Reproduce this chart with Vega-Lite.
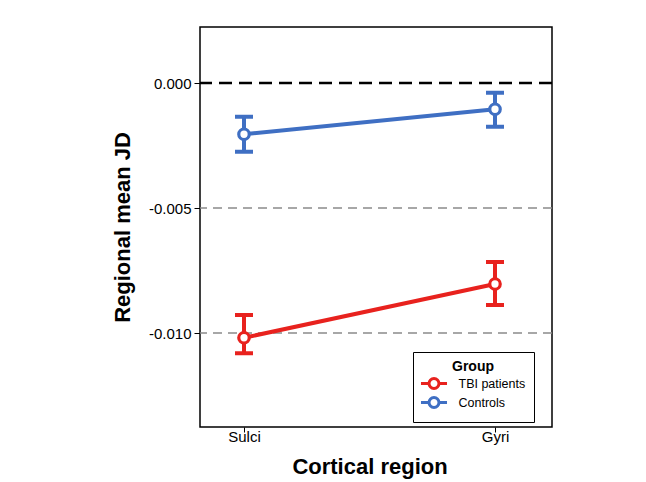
{
  "$schema": "https://vega.github.io/schema/vega-lite/v6.json",
  "width": 352,
  "height": 400,
  "autosize": "none",
  "padding": {"left": 200, "top": 27, "right": 94, "bottom": 55},
  "background": "white",
  "config": {
    "font": "Liberation Sans",
    "view": {"stroke": "black", "strokeWidth": 1.5},
    "axis": {"grid": false, "domain": false, "tickColor": "black", "labelColor": "black", "titleColor": "black", "labelFont": "Liberation Sans", "titleFont": "Liberation Sans"},
    "legend": {
      "orient": "none",
      "legendX": 213,
      "legendY": 325,
      "direction": "vertical",
      "titleFontSize": 14,
      "titleFontWeight": "bold",
      "titleAnchor": "middle",
      "titleColor": "black",
      "titlePadding": 2,
      "labelFontSize": 12.5,
      "labelColor": "black",
      "labelOffset": 17,
      "symbolOffset": 5.5,
      "rowPadding": -4,
      "padding": 8,
      "strokeColor": "black",
      "fillColor": "white",
      "symbolType": "M-2.17,0L-0.83,0M0.83,0L2.17,0M-0.83,0A0.83,0.83,0,1,1,0.83,0A0.83,0.83,0,1,1,-0.83,0Z",
      "symbolSize": 144,
      "symbolStrokeWidth": 3,
      "symbolFillColor": "white",
      "symbolOpacity": 1
    }
  },
  "datasets": {
    "stats": [
      {"region": "Sulci", "group": "TBI patients", "mean": -0.01019, "lo": -0.01081, "hi": -0.00928},
      {"region": "Gyri", "group": "TBI patients", "mean": -0.00804, "lo": -0.00888, "hi": -0.00716},
      {"region": "Sulci", "group": "Controls", "mean": -0.00205, "lo": -0.00275, "hi": -0.00135},
      {"region": "Gyri", "group": "Controls", "mean": -0.00105, "lo": -0.00175, "hi": -0.00039}
    ],
    "zeroLine": [{"y": 0}],
    "refLines": [{"y": -0.005}, {"y": -0.01}]
  },
  "layer": [
    {
      "data": {"name": "refLines"},
      "mark": {"type": "rule", "color": "#8a8a8a", "strokeWidth": 1.5, "strokeDash": [9, 6]},
      "encoding": {"y": {"field": "y", "type": "quantitative"}}
    },
    {
      "data": {"name": "zeroLine"},
      "mark": {"type": "rule", "color": "black", "strokeWidth": 2.5, "strokeDash": [13, 7]},
      "encoding": {"y": {"field": "y", "type": "quantitative"}}
    },
    {
      "data": {"name": "stats"},
      "mark": {"type": "line", "strokeWidth": 4, "opacity": 1},
      "encoding": {
        "x": {"field": "region", "type": "nominal"},
        "y": {"field": "mean", "type": "quantitative"},
        "color": {"field": "group", "type": "nominal", "title": "Group"}
      }
    },
    {
      "data": {"name": "stats"},
      "mark": {"type": "rule", "strokeWidth": 4, "opacity": 1},
      "encoding": {
        "x": {"field": "region", "type": "nominal"},
        "y": {"field": "lo", "type": "quantitative"},
        "y2": {"field": "hi"},
        "color": {"field": "group", "type": "nominal", "title": "Group"}
      }
    },
    {
      "data": {"name": "stats"},
      "mark": {"type": "rule", "strokeWidth": 4, "opacity": 1, "xOffset": -9, "x2Offset": 9},
      "encoding": {
        "x": {"field": "region", "type": "nominal"},
        "x2": {"field": "region"},
        "y": {"field": "lo", "type": "quantitative"},
        "color": {"field": "group", "type": "nominal", "title": "Group"}
      }
    },
    {
      "data": {"name": "stats"},
      "mark": {"type": "rule", "strokeWidth": 4, "opacity": 1, "xOffset": -9, "x2Offset": 9},
      "encoding": {
        "x": {"field": "region", "type": "nominal"},
        "x2": {"field": "region"},
        "y": {"field": "hi", "type": "quantitative"},
        "color": {"field": "group", "type": "nominal", "title": "Group"}
      }
    },
    {
      "data": {"name": "stats"},
      "mark": {"type": "point", "filled": false, "fill": "white", "fillOpacity": 1, "size": 110, "strokeWidth": 3.2, "opacity": 1},
      "encoding": {
        "x": {
          "field": "region", "type": "nominal",
          "scale": {"type": "point", "domain": ["Sulci", "Gyri"], "range": [44, 295], "padding": 0},
          "axis": {"title": "Cortical region", "labelAngle": 0, "labelAlign": "center", "labelFlush": false, "labelFontSize": 15, "tickSize": 5, "labelPadding": 4, "titleFontSize": 22, "titleFontWeight": "bold", "titlePadding": 12}
        },
        "y": {
          "field": "mean", "type": "quantitative",
          "scale": {"domain": [-0.01376, 0.00224], "nice": false, "zero": false},
          "axis": {"title": "Regional mean JD", "values": [0, -0.005, -0.01], "labelExpr": "replace(format(datum.value, '.3f'), '\u2212', '-')", "labelFontSize": 15, "tickSize": 6, "labelPadding": 3, "titleFontSize": 22, "titleFontWeight": "bold", "titlePadding": 14}
        },
        "color": {
          "field": "group", "type": "nominal", "title": "Group",
          "scale": {"domain": ["TBI patients", "Controls"], "range": ["#e8221e", "#3f6fc3"]}
        }
      }
    }
  ]
}
